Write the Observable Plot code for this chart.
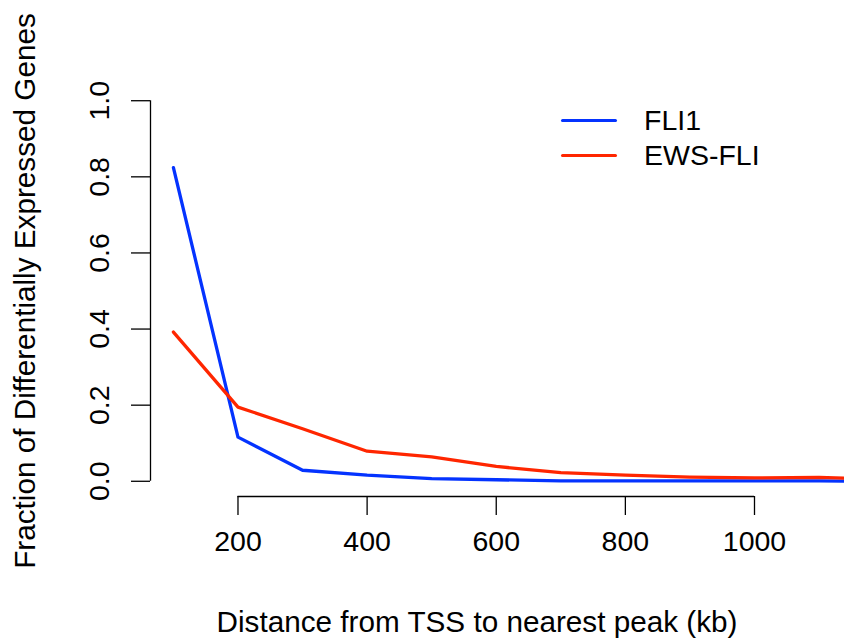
<!DOCTYPE html>
<html><head><meta charset="utf-8">
<script src="https://cdn.jsdelivr.net/npm/d3@7"></script>
<script src="https://cdn.jsdelivr.net/npm/@observablehq/plot@0.6"></script>
<style>
body{margin:0;background:#fff;}
#wrap{position:relative;width:844px;height:641px;font-family:"Liberation Sans",Arial,sans-serif;}
#legend{position:absolute;left:561px;top:103px;font-size:28.5px;color:#000;}
.row{display:flex;align-items:center;height:35px;}
.sw{width:56px;height:3.3px;margin-right:27px;border-radius:2px;}
g[aria-label="x-axis label"], g[aria-label="y-axis label"]{font-size:29.7px;}
</style></head><body><div id="wrap"><div id="legend"></div></div>
<script>
const distances = [100,200,300,400,500,600,700,800,900,1000,1100,1200];
const fli1 = [0.824,0.116,0.029,0.016,0.007,0.004,0.001,0.001,0.001,0.001,0.001,0.000];
const ewsFli = [0.392,0.195,0.138,0.079,0.064,0.039,0.023,0.016,0.011,0.009,0.010,0.006];
const seriesNames = ["FLI1","EWS-FLI"];
const seriesColors = ["#0433FF","#FF2600"];
const xTicks = [200,400,600,800,1000];
const yTicks = [0,0.2,0.4,0.6,0.8,1.0];
const yTickLabels = ["0.0","0.2","0.4","0.6","0.8","1.0"];
const xLabel = "Distance from TSS to nearest peak (kb)";
const yLabel = "Fraction of Differentially Expressed Genes";

const rows = [];
[fli1, ewsFli].forEach((vals, k) => distances.forEach((d, i) => rows.push({x: d, y: vals[i], s: seriesNames[k]})));

const xDomain = [64.5, 1075.9];
const yDomain = [-0.04, 1.04];

const chart = Plot.plot({
  width: 844, height: 641,
  marginLeft: 150, marginRight: 41, marginTop: 85, marginBottom: 145,
  style: {fontFamily: '"Liberation Sans", Arial, sans-serif', fontSize: "28.5px", color: "#000", background: "#fff", overflow: "hidden"},
  x: {domain: xDomain},
  y: {domain: yDomain},
  color: {domain: seriesNames, range: seriesColors},
  marks: [
    Plot.ruleY([yDomain[0]], {x1: xTicks[0], x2: xTicks[xTicks.length - 1], stroke: "#000", strokeWidth: 1.3}),
    Plot.ruleX([xDomain[0]], {y1: yTicks[0], y2: yTicks[yTicks.length - 1], stroke: "#000", strokeWidth: 1.3}),
    Plot.axisX(xTicks, {tickSize: 19, tickPadding: 15, strokeWidth: 1.3, tickFormat: d3.format("d"),
      label: xLabel, labelAnchor: "center", labelArrow: "none", labelOffset: 135}),
    Plot.axisY(yTicks, {tickSize: 19, tickPadding: 23, tickRotate: -90, strokeWidth: 1.3,
      tickFormat: d => yTickLabels[yTicks.indexOf(d)],
      label: yLabel, labelAnchor: "center", labelArrow: "none", labelOffset: 137}),
    Plot.line(rows, {x: "x", y: "y", z: "s", stroke: "s", strokeWidth: 3.3})
  ]
});
document.getElementById("wrap").prepend(chart);

const legend = document.getElementById("legend");
seriesNames.forEach((name, i) => {
  const row = document.createElement("div");
  row.className = "row";
  const sw = document.createElement("div");
  sw.className = "sw";
  sw.style.background = seriesColors[i];
  const t = document.createElement("span");
  t.textContent = name;
  row.append(sw, t);
  legend.append(row);
});
</script>
</body></html>
